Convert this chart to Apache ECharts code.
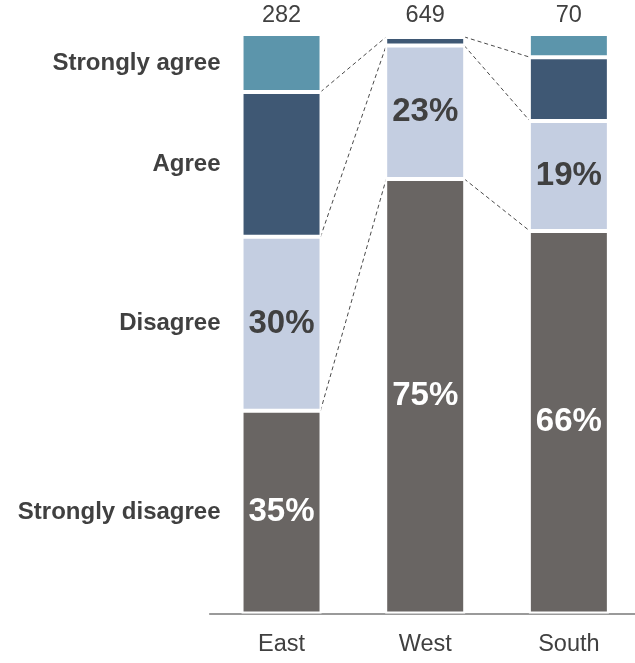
<!DOCTYPE html>
<html>
<head>
<meta charset="utf-8">
<script src="https://cdn.jsdelivr.net/npm/echarts@6/dist/echarts.min.js"></script>
<style>
  html, body { margin: 0; padding: 0; background: #ffffff; }
  #chart { width: 635px; height: 663px; }
</style>
</head>
<body>
<div id="chart"></div>
<script>
// Survey responses by region (percent of respondents), stacked bottom to top
const categories = ['East', 'West', 'South'];
const totals = ['282', '649', '70'];
const levels = ['Strongly disagree', 'Disagree', 'Agree', 'Strongly agree'];
const stronglyDisagree = [35, 75, 66];
const disagree = [30, 23, 19];
const agree = [25, 1.5, 11];
const stronglyAgree = [10, 0.5, 4];

const colors = ['#696563', '#c4cee1', '#3f5874', '#5c95ab'];
const textColor = '#404040';
const fontFamily = 'Liberation Sans, Arial, Helvetica, sans-serif';
const BAR_W = 80;

const stacks = [stronglyDisagree, disagree, agree, stronglyAgree];

// cumulative boundaries between segments, per category
function cumulative(catIdx, upTo) {
  let s = 0;
  for (let k = 0; k <= upTo; k++) s += stacks[k][catIdx];
  return s;
}

// connector data: [leftCategoryIndex, leftBoundary, rightBoundary]
const connectors = [];
for (let c = 0; c < categories.length - 1; c++) {
  for (let k = 0; k < stacks.length - 1; k++) {
    connectors.push([c, cumulative(c, k), cumulative(c + 1, k)]);
  }
}

// side labels: midpoints of the first bar's segments
const sideLabels = levels.map((name, k) => {
  const lower = k === 0 ? 0 : cumulative(0, k - 1);
  return [0, lower + stacks[k][0] / 2];
});

const pctLabel = (color) => ({
  show: true,
  position: 'inside',
  formatter: '{c}%',
  color: color,
  fontSize: 33,
  fontWeight: 'bold',
  fontFamily: fontFamily
});

const barSeries = levels.map((name, k) => ({
  name: name,
  type: 'bar',
  stack: 'total',
  barWidth: BAR_W,
  data: stacks[k],
  itemStyle: { color: colors[k], borderColor: '#ffffff', borderWidth: 2 },
  label: k === 0 ? pctLabel('#ffffff') : (k === 1 ? pctLabel(textColor) : { show: false }),
  emphasis: { disabled: true },
  z: 2
}));

const chart = echarts.init(document.getElementById('chart'));
chart.setOption({
  animation: false,
  backgroundColor: '#ffffff',
  grid: {
    left: 209.7, top: 34, width: 431, height: 579.5,
    containLabel: false,
    outerBoundsMode: 'none'
  },
  xAxis: [
    {
      type: 'category',
      data: categories,
      position: 'bottom',
      axisLine: { show: true, lineStyle: { color: '#7a7a7a', width: 1.5 } },
      axisTick: { show: false },
      axisLabel: { color: textColor, fontSize: 23.5, fontFamily: fontFamily, margin: 19 }
    },
    {
      type: 'category',
      data: totals,
      position: 'top',
      axisLine: { show: false },
      axisTick: { show: false },
      axisLabel: { color: textColor, fontSize: 23.5, fontFamily: fontFamily, margin: 6 }
    }
  ],
  yAxis: { type: 'value', min: 0, max: 100, show: false },
  series: barSeries.concat([
    {
      type: 'custom',
      name: 'connectors',
      coordinateSystem: 'cartesian2d',
      data: connectors,
      encode: { x: 0, y: [1, 2] },
      silent: true,
      z: 1,
      renderItem: function (params, api) {
        const c = api.value(0);
        const p1 = api.coord([c, api.value(1)]);
        const p2 = api.coord([c + 1, api.value(2)]);
        const half = BAR_W / 2 - 1;
        return {
          type: 'line',
          shape: { x1: p1[0] + half, y1: p1[1], x2: p2[0] - half, y2: p2[1] },
          style: { stroke: '#4a4a4a', lineWidth: 1, lineDash: [4, 3] }
        };
      }
    },
    {
      type: 'custom',
      name: 'levels',
      coordinateSystem: 'cartesian2d',
      data: sideLabels,
      encode: { x: 0, y: 1 },
      silent: true,
      renderItem: function (params, api) {
        const p = api.coord([api.value(0), api.value(1)]);
        return {
          type: 'text',
          x: p[0] - BAR_W / 2 - 21,
          y: p[1],
          style: {
            text: levels[params.dataIndex],
            fill: textColor,
            fontSize: 24,
            fontWeight: 'bold',
            fontFamily: fontFamily,
            align: 'right',
            verticalAlign: 'middle'
          }
        };
      }
    }
  ])
});
</script>
</body>
</html>
